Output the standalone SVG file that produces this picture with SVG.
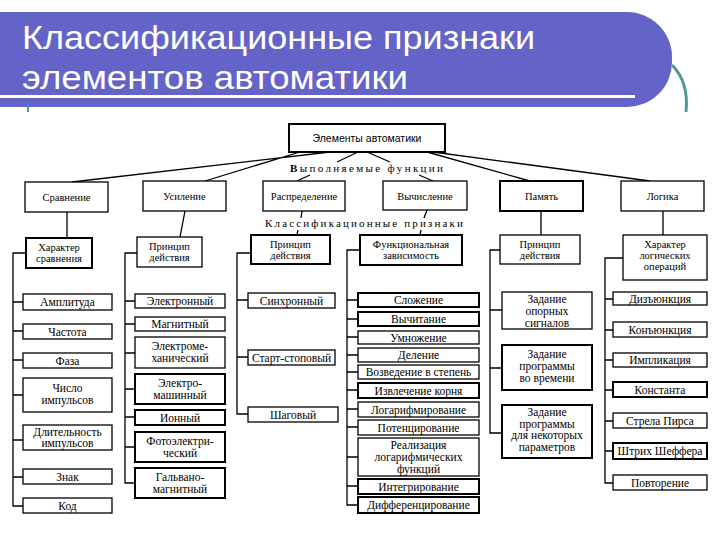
<svg xmlns="http://www.w3.org/2000/svg" width="720" height="540" viewBox="0 0 720 540">
<style>
.b{fill:#fff;stroke:#000;stroke-width:1.3}
.k{stroke-width:2}
.t{font-family:"Liberation Serif","Times New Roman",serif;font-size:11.5px;text-anchor:middle;fill:#000}
.s{font-size:10.5px}
.c{stroke:#000;stroke-width:1.3;fill:none}
.h{font-family:"Liberation Serif","Times New Roman",serif;font-size:11px;fill:#000}
.ti{font-family:"Liberation Sans",Arial,sans-serif;font-size:34px;fill:#fff}
</style>
<rect width="720" height="540" fill="#fff"/>
<g id="banner">
<path d="M0,12 H627 A45,45 0 0 1 672,57 V62 A45,45 0 0 1 627,107 H0 Z" fill="#6464c8"/>
<rect x="0" y="95" width="635" height="3" fill="#fff"/>
<path d="M672,65 Q689,82 686,112" fill="none" stroke="#4e9a96" stroke-width="3"/>
<line x1="28" y1="105" x2="28" y2="112" stroke="#4e9a96" stroke-width="2"/>
<text class="ti" x="22" y="49" textLength="513" lengthAdjust="spacingAndGlyphs">Классификационные признаки</text>
<text class="ti" x="22" y="89" textLength="386" lengthAdjust="spacingAndGlyphs">элементов автоматики</text>
</g>
<g id="connectors">
<path class="c" d="M330,152 L72,182 M300,152 L205,181 M358,152 L337,162 M310,175 L297,181 M367,152 L390,162 M419,175 L433,181 M427,152 L530,181 M433,152 L650,181"/>
<path class="c" d="M67,212 V238 M185,211 L180,237 M302,211 L301,218 M298,230 L297,235 M427,210 L424,218 M421,230 L420,235 M541,211 V235 M663,211 V235"/>
<path class="c" d="M26,253 H13 V506 H23 M13,302 H23 M13,331 H23 M13,360 H23 M13,395 H23 M13,440 H23 M13,477 H23"/>
<path class="c" d="M137,253 H125 V483 H135 M125,301 H135 M125,324 H135 M125,353 H135 M125,389 H135 M125,417 H135 M125,447 H135"/>
<path class="c" d="M251,253 H237 V414 H248 M237,300 H248 M237,357 H248"/>
<path class="c" d="M360,250 H347 V505 H358 M347,300 H358 M347,319 H358 M347,337 H358 M347,355 H358 M347,372 H358 M347,390 H358 M347,409 H358 M347,427 H358 M347,457 H358 M347,486 H358"/>
<path class="c" d="M500,250 H490 V433 H502 M490,310 H502 M490,368 H502"/>
<path class="c" d="M623,258 H605 V483 H613 M605,299 H613 M605,330 H613 M605,360 H613 M605,390 H613 M605,421 H613 M605,451 H613"/>
</g>
<g id="labels">
<text class="h" x="290" y="172" textLength="153" lengthAdjust="spacing"><tspan font-weight="bold">В</tspan>ыполняемые функции</text>
<text class="h" x="265" y="227" textLength="198" lengthAdjust="spacing">Классификационные признаки</text>
</g>
<g id="root"><rect class="b k" x="289" y="124" width="156" height="28"/><text class="t" x="367" y="142" style="font-family:'Liberation Sans',Arial,sans-serif;font-size:10.5px">Элементы автоматики</text></g>
<g id="n-sravnenie"><rect class="b" x="25" y="182" width="83" height="30"/><text class="t s" x="66.5" y="201">Сравнение</text></g>
<g id="n-usilenie"><rect class="b" x="143" y="181" width="83" height="30"/><text class="t s" x="184.5" y="200">Усиление</text></g>
<g id="n-raspred"><rect class="b" x="263" y="181" width="82" height="30"/><text class="t s" x="304" y="200">Распределение</text></g>
<g id="n-vych"><rect class="b" x="383" y="181" width="84" height="29"/><text class="t s" x="425" y="200">Вычисление</text></g>
<g id="n-pamyat"><rect class="b k" x="500" y="181" width="83" height="30"/><text class="t s" x="541.5" y="200">Память</text></g>
<g id="n-logika"><rect class="b" x="621" y="181" width="83" height="30"/><text class="t s" x="662.5" y="200">Логика</text></g>

<g id="n-har-sr"><rect class="b k" x="26" y="238" width="66" height="30"/><text class="t s" x="59" y="251">Характер<tspan x="59" dy="11">сравнения</tspan></text></g>
<g id="n-pr-us"><rect class="b" x="137" y="237" width="65" height="30"/><text class="t s" x="169.5" y="250">Принцип<tspan x="169.5" dy="11">действия</tspan></text></g>
<g id="n-pr-ra"><rect class="b k" x="251" y="235" width="79" height="29"/><text class="t s" x="290.5" y="248">Принцип<tspan x="290.5" dy="11">действия</tspan></text></g>
<g id="n-func"><rect class="b k" x="360" y="235" width="102" height="30"/><text class="t s" x="411" y="248">Функциональная<tspan x="411" dy="11">зависимость</tspan></text></g>
<g id="n-pr-pa"><rect class="b" x="500" y="235" width="80" height="29"/><text class="t s" x="540" y="248">Принцип<tspan x="540" dy="11">действия</tspan></text></g>
<g id="n-har-log"><rect class="b" x="623" y="235" width="84" height="45"/><text class="t s" x="665" y="248">Характер<tspan x="665" dy="11">логических</tspan><tspan x="665" dy="11">операций</tspan></text></g>

<g id="c1-1"><rect class="b" x="23" y="294" width="89" height="16"/><text class="t" x="67.5" y="306">Амплитуда</text></g>
<g id="c1-2"><rect class="b" x="23" y="324" width="89" height="15"/><text class="t" x="67.5" y="335.5">Частота</text></g>
<g id="c1-3"><rect class="b" x="23" y="353" width="89" height="15"/><text class="t" x="67.5" y="364.5">Фаза</text></g>
<g id="c1-4"><rect class="b" x="23" y="378" width="89" height="34"/><text class="t" x="67.5" y="392">Число<tspan x="67.5" dy="12">импульсов</tspan></text></g>
<g id="c1-5"><rect class="b" x="23" y="425" width="89" height="25"/><text class="t" x="67.5" y="436">Длительность<tspan x="67.5" dy="11">импульсов</tspan></text></g>
<g id="c1-6"><rect class="b" x="23" y="469" width="89" height="15"/><text class="t" x="67.5" y="480.5">Знак</text></g>
<g id="c1-7"><rect class="b" x="23" y="498" width="89" height="15"/><text class="t" x="67.5" y="509.5">Код</text></g>

<g id="c2-1"><rect class="b" x="135" y="294" width="90" height="14"/><text class="t" x="180" y="305">Электронный</text></g>
<g id="c2-2"><rect class="b" x="135" y="317" width="90" height="14"/><text class="t" x="180" y="328">Магнитный</text></g>
<g id="c2-3"><rect class="b" x="135" y="337" width="90" height="31"/><text class="t" x="180" y="350">Электроме-<tspan x="180" dy="12">ханический</tspan></text></g>
<g id="c2-4"><rect class="b k" x="135" y="374" width="90" height="30"/><text class="t" x="180" y="387">Электро-<tspan x="180" dy="12">машинный</tspan></text></g>
<g id="c2-5"><rect class="b k" x="135" y="410" width="90" height="15"/><text class="t" x="180" y="421.5">Ионный</text></g>
<g id="c2-6"><rect class="b k" x="135" y="432" width="90" height="30"/><text class="t" x="180" y="445">Фотоэлектри-<tspan x="180" dy="12">ческий</tspan></text></g>
<g id="c2-7"><rect class="b k" x="135" y="468" width="90" height="30"/><text class="t" x="180" y="481">Гальвано-<tspan x="180" dy="12">магнитный</tspan></text></g>

<g id="c3-1"><rect class="b" x="248" y="293" width="87" height="15"/><text class="t" x="291.5" y="304.5">Синхронный</text></g>
<g id="c3-2"><rect class="b" x="248" y="350" width="87" height="15"/><text class="t" x="291.5" y="361.5">Старт-стоповый</text></g>
<g id="c3-3"><rect class="b" x="248" y="407" width="90" height="15"/><text class="t" x="293" y="418.5">Шаговый</text></g>

<g id="c4-1"><rect class="b k" x="358" y="293" width="121" height="14"/><text class="t" x="418.5" y="304">Сложение</text></g>
<g id="c4-2"><rect class="b k" x="358" y="312" width="121" height="14"/><text class="t" x="418.5" y="323">Вычитание</text></g>
<g id="c4-3"><rect class="b" x="358" y="331" width="121" height="13"/><text class="t" x="418.5" y="341.5">Умножение</text></g>
<g id="c4-4"><rect class="b" x="358" y="348" width="121" height="14"/><text class="t" x="418.5" y="359">Деление</text></g>
<g id="c4-5"><rect class="b" x="358" y="365" width="121" height="14"/><text class="t" x="418.5" y="376">Возведение в степень</text></g>
<g id="c4-6"><rect class="b k" x="358" y="383" width="121" height="15"/><text class="t" x="418.5" y="394.5">Извлечение корня</text></g>
<g id="c4-7"><rect class="b" x="358" y="402" width="121" height="15"/><text class="t" x="418.5" y="413.5">Логарифмирование</text></g>
<g id="c4-8"><rect class="b" x="358" y="420" width="121" height="15"/><text class="t" x="418.5" y="431.5">Потенцирование</text></g>
<g id="c4-9"><rect class="b" x="358" y="438" width="121" height="38"/><text class="t" x="418.5" y="449">Реализация<tspan x="418.5" dy="12">логарифмических</tspan><tspan x="418.5" dy="12">функций</tspan></text></g>
<g id="c4-10"><rect class="b k" x="358" y="479" width="121" height="15"/><text class="t" x="418.5" y="490.5">Интегрирование</text></g>
<g id="c4-11"><rect class="b k" x="358" y="497" width="121" height="16"/><text class="t" x="418.5" y="509">Дифференцирование</text></g>

<g id="c5-1"><rect class="b" x="502" y="292" width="90" height="37"/><text class="t" x="547" y="303">Задание<tspan x="547" dy="12">опорных</tspan><tspan x="547" dy="12">сигналов</tspan></text></g>
<g id="c5-2"><rect class="b k" x="502" y="345" width="90" height="45"/><text class="t" x="547" y="358">Задание<tspan x="547" dy="12">программы</tspan><tspan x="547" dy="12">во времени</tspan></text></g>
<g id="c5-3"><rect class="b k" x="502" y="405" width="90" height="53"/><text class="t" x="547" y="416">Задание<tspan x="547" dy="11.5">программы</tspan><tspan x="547" dy="11.5">для некоторых</tspan><tspan x="547" dy="11.5">параметров</tspan></text></g>

<g id="c6-1"><rect class="b" x="613" y="292" width="94" height="13"/><text class="t" x="660" y="302.5">Дизъюнкция</text></g>
<g id="c6-2"><rect class="b" x="613" y="322" width="94" height="15"/><text class="t" x="660" y="333.5">Конъюнкция</text></g>
<g id="c6-3"><rect class="b" x="613" y="353" width="94" height="14"/><text class="t" x="660" y="364">Импликация</text></g>
<g id="c6-4"><rect class="b k" x="613" y="382" width="94" height="15"/><text class="t" x="660" y="393.5">Константа</text></g>
<g id="c6-5"><rect class="b" x="613" y="413" width="94" height="15"/><text class="t" x="660" y="424.5">Стрела Пирса</text></g>
<g id="c6-6"><rect class="b k" x="613" y="443" width="94" height="16"/><text class="t" x="660" y="455">Штрих Шеффера</text></g>
<g id="c6-7"><rect class="b" x="613" y="475" width="94" height="15"/><text class="t" x="660" y="486.5">Повторение</text></g>
</svg>
